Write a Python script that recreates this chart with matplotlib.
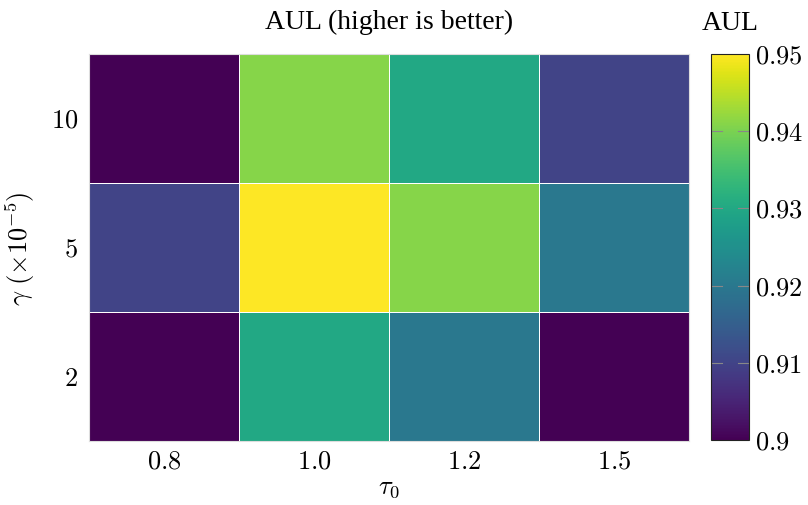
import matplotlib
matplotlib.use("Agg")
import matplotlib.pyplot as plt
import numpy as np

plt.rcParams["mathtext.fontset"] = "cm"
plt.rcParams["font.family"] = ["Liberation Serif", "DejaVu Serif"]

tau0 = ["0.8", "1.0", "1.2", "1.5"]
gamma = ["2", "5", "10"]
# rows follow gamma (bottom to top), columns follow tau0
aul_gamma2 = [0.900, 0.930, 0.920, 0.900]
aul_gamma5 = [0.910, 0.951, 0.941, 0.920]
aul_gamma10 = [0.900, 0.941, 0.930, 0.910]
cbar_ticks = [0.90, 0.91, 0.92, 0.93, 0.94, 0.95]
cbar_labels = ["0.9", "0.91", "0.92", "0.93", "0.94", "0.95"]

values = np.array([aul_gamma2, aul_gamma5, aul_gamma10])

fig = plt.figure(figsize=(8.08, 5.06), dpi=100)
ax = fig.add_axes([89 / 808, 1 - 442 / 506, 600 / 808, 387 / 506])
cax = fig.add_axes([711 / 808, 1 - 441 / 506, 38 / 808, 386 / 506])

mesh = ax.pcolormesh(values, cmap="viridis", vmin=0.90, vmax=0.95,
                     edgecolors="white", linewidth=0.5)
ax.set_xticks(np.arange(len(tau0)) + 0.5)
ax.set_xticklabels([f"${t}$" for t in tau0])
ax.set_yticks(np.arange(len(gamma)) + 0.5)
ax.set_yticklabels([f"${g}$" for g in gamma])
ax.tick_params(length=0, labelsize=19, pad=8)
ax.tick_params(axis="x", pad=7)
for s in ax.spines.values():
    s.set_color("#dddddd")
    s.set_linewidth(0.8)

ax.set_xlabel(r"$\tau_0$", fontsize=19)
ax.xaxis.set_label_coords(0.5, -0.092)
ax.set_ylabel(r"$\gamma\ (\times 10^{-5})$", fontsize=19)
ax.yaxis.set_label_coords(-0.086, 0.5)
ax.set_title("AUL (higher is better)", fontsize=20, pad=19)

cb = fig.colorbar(mesh, cax=cax, ticks=cbar_ticks)
cb.ax.set_yticklabels([f"${l}$" for l in cbar_labels])
cb.ax.tick_params(labelsize=19, length=0, pad=4)
cb.outline.set_edgecolor("#222222")
cb.outline.set_linewidth(0.8)
for t in cbar_ticks[1:-1]:
    cax.plot([0, 0.3], [t, t], color="#888888", lw=0.8, transform=cax.get_yaxis_transform())
    cax.plot([0.7, 1], [t, t], color="#888888", lw=0.8, transform=cax.get_yaxis_transform())
cax.text(0.5, 1.05, "AUL", transform=cax.transAxes, ha="center", va="bottom", fontsize=20)

fig.savefig("out.png", dpi=100)
